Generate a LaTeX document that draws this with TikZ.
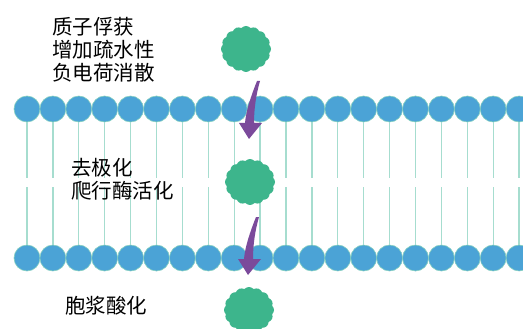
\documentclass[tikz,border=0pt]{standalone}
\usepackage{fontspec}
\newfontfamily\cjk{Noto Sans CJK SC}
\usepackage{xcolor}
\usepackage{tikz}
\usetikzlibrary{shapes.symbols}

\definecolor{headblue}{HTML}{4BA3D6}
\definecolor{headrim}{HTML}{86D0C0}
\definecolor{tailteal}{HTML}{A6DDCF}
\definecolor{protgreen}{HTML}{3DB58C}
\definecolor{arrowpurple}{HTML}{7B4A9B}

\tikzset{
  head/.style={circle, fill=headblue, draw=headrim, line width=0.6pt, minimum size=26pt, inner sep=0pt},
  tail/.style={draw=tailteal, line width=1.3pt},
  protein/.style={cloud, cloud puffs=16, cloud puff arc=95, aspect=1.1, fill=protgreen, minimum width=50pt, minimum height=46pt, inner sep=0pt},
  label/.style={anchor=west, align=left, inner sep=0pt, font=\cjk\fontsize{20.5}{23}\selectfont}
}

\begin{document}
\begin{tikzpicture}[x=1pt,y=-1pt]
  \useasboundingbox (0,0) rectangle (523,329);
  \clip (0,0) rectangle (523,329);
  % Heads and tails of the two layers
  \foreach \i in {0,...,19} {
    \node[head] (t\i) at ({27+25.9*\i},109) {};
    \node[head] (b\i) at ({27+25.9*\i},258) {};
    \draw[tail] (t\i.south) -- ++(0,56);
    \draw[tail] (b\i.north) -- ++(0,-58);
  }
  % Protein before, inside and after the membrane
  \node[protein] (p1) at (246,49) {};
  \node[protein] (p2) at (250,182) {};
  \node[protein] (p3) at (249,310) {};
  % Curved arrows through the layers
  \foreach \sx/\sy in {258/81, 257/217} {
    \begin{scope}[shift={(\sx,\sy)}]
      \fill[arrowpurple] (-1,0) .. controls (-7,15) and (-12,30) .. (-13,42)
        -- (-19,42) -- (-9,58) -- (4,42) -- (-4,42)
        .. controls (-4,28) and (-2,14) .. (2,0) -- cycle;
    \end{scope}
  }
  % Labels
  \node[label] (l1) at (52,50) {质子俘获\\增加疏水性\\负电荷消散};
  \node[label] (l2) at (71,179) {去极化\\爬行酶活化};
  \node[label] (l3) at (65,306) {胞浆酸化};
\end{tikzpicture}
\end{document}
